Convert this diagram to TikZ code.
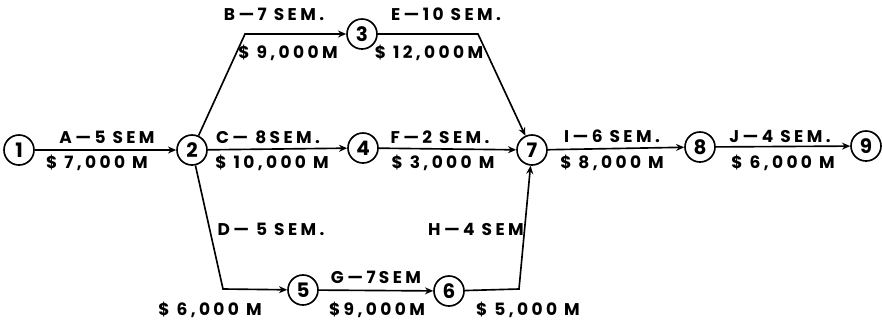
\documentclass[tikz,border=0pt]{standalone}
\usepackage{fontspec}
\setmainfont{Poppins}
\newfontfamily\handfont[LetterSpace=20]{Poppins}
\usetikzlibrary{arrows.meta, positioning}
\tikzset{
  event/.style={
    circle, draw, line width=1.4pt,
    minimum size=0.9cm, inner sep=0pt,
    font=\fontsize{17}{19}\selectfont\bfseries
  },
  actarrow/.style={-{Stealth[length=7pt, width=6pt]}, line width=1.4pt},
  actlabel/.style={
    inner sep=1pt, font=\handfont\fontsize{14.5}{16}\selectfont\bfseries
  },
}

\begin{document}
\begin{tikzpicture}[x=0.03cm, y=-0.03cm]
    \useasboundingbox (0,0) rectangle (882,325);

    % events
    \node[event] (e1) at (19, 150){1};
    \node[event] (e2) at (192,150){2};
    \node[event] (e3) at (362, 34){3};
    \node[event] (e4) at (363,148){4};
    \node[event] (e5) at (303,290){5};
    \node[event] (e6) at (449,291){6};
    \node[event] (e7) at (532,150){7};
    \node[event] (e8) at (700,147){8};
    \node[event] (e9) at (866,146){9};

    % bends
    \coordinate (b23) at (245, 34);
    \coordinate (b37) at (478, 34);
    \coordinate (b25) at (223,289);
    \coordinate (b67) at (519,289);

    % activities
    \draw[actarrow] (e1) -- (e2);
    \draw[actarrow] (e2) -- (b23) -- (e3);
    \draw[actarrow] (e3) -- (b37) -- (e7);
    \draw[actarrow] (e2) -- (e4);
    \draw[actarrow] (e4) -- (e7);
    \draw[actarrow] (e2) -- (b25) -- (e5);
    \draw[actarrow] (e5) -- (e6);
    \draw[actarrow] (e6) -- (b67) -- (e7);
    \draw[actarrow] (e7) -- (e8);
    \draw[actarrow] (e8) -- (e9);

    % times and costs
    \node[actlabel] (ta) at (107,137){A—5 SEM};
    \node[actlabel] (ca) at (97, 163){\$ 7,000 M};
    \node[actlabel] (tb) at (274, 14){B—7 SEM.};
    \node[actlabel] (cb) at (288, 53){\$ 9,000M};
    \node[actlabel] (te) at (446, 14){E—10 SEM.};
    \node[actlabel] (ce) at (429, 53){\$ 12,000M};
    \node[actlabel] (tc) at (268,137){C— 8SEM.};
    \node[actlabel] (cc) at (272,163){\$ 10,000 M};
    \node[actlabel] (tf) at (440,137){F—2 SEM.};
    \node[actlabel] (cf) at (443,163){\$ 3,000 M};
    \node[actlabel] (ti) at (612,136){I—6 SEM.};
    \node[actlabel] (ci) at (612,163){\$ 8,000 M};
    \node[actlabel] (tj) at (780,136){J—4 SEM.};
    \node[actlabel] (cj) at (783,163){\$ 6,000 M};
    \node[actlabel] (td) at (271,229){D— 5 SEM.};
    \node[actlabel] (cd) at (210,310){\$ 6,000 M};
    \node[actlabel] (tg) at (376,277){G—7SEM};
    \node[actlabel] (cg) at (377,310){\$9,000M};
    \node[actlabel] (th) at (476,229){H—4 SEM};
    \node[actlabel] (ch) at (528,310){\$ 5,000 M};
\end{tikzpicture}
\end{document}
